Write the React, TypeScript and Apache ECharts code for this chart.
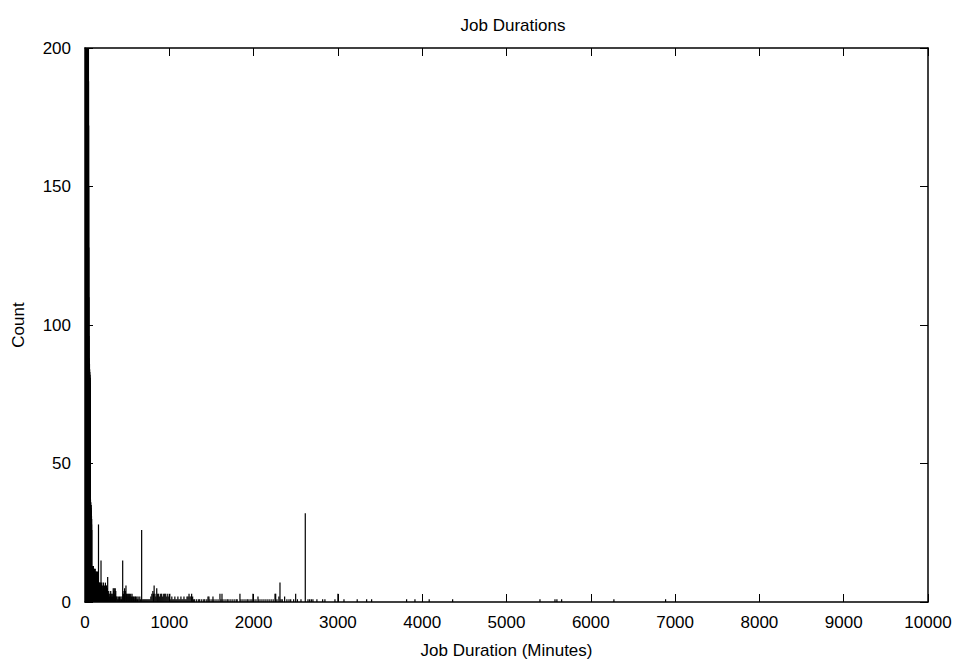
import React, { useEffect, useRef } from "react";
import * as echarts from "echarts";

const chartTitle = "Job Durations";
const xAxisName = "Job Duration (Minutes)";
const yAxisName = "Count";
const xTicks = [0, 1000, 2000, 3000, 4000, 5000, 6000, 7000, 8000, 9000, 10000];
const yTicks = [0, 50, 100, 150, 200];

// Histogram bins: duration in minutes and job count
const durations = [
  1, 2, 3, 4, 5, 6, 7, 8, 9, 10, 11, 12, 13, 14, 15, 16, 17, 18, 19, 20,
  21, 22, 23, 24, 25, 26, 27, 28, 29, 30, 31, 32, 33, 34, 35, 36, 37, 38, 39, 40,
  41, 42, 43, 44, 45, 46, 47, 48, 49, 50, 51, 52, 53, 54, 55, 56, 57, 58, 59, 60,
  61, 62, 63, 64, 65, 66, 67, 68, 69, 70, 71, 72, 73, 74, 75, 76, 77, 78, 79, 80,
  82, 84, 86, 88, 90, 92, 94, 96, 98, 100, 102, 104, 106, 108, 110, 112, 114, 116, 118, 120,
  122, 124, 126, 128, 130, 132, 134, 136, 138, 140, 142, 144, 146, 148, 150, 152, 154, 156, 158, 160,
  162, 164, 166, 168, 170, 172, 174, 176, 178, 180, 182, 184, 186, 188, 190, 192, 194, 196, 198,
  200, 206, 212, 218, 224, 230, 236, 242, 248, 254, 260, 266, 269, 275, 281, 287, 293, 299,
  305, 311, 317, 323, 329, 335, 341, 347, 353, 359, 365, 371, 380, 388, 395, 402, 410, 418, 425, 433, 440,
  447, 455, 463, 470, 478, 486, 494, 502, 510, 518, 526, 534, 542, 550, 558, 566, 574, 582, 590, 598,
  606, 614, 622, 630, 640, 650, 660, 672, 685, 697, 709, 721, 733, 745, 757, 769, 781, 793, 805, 813,
  820, 830, 840, 851, 862, 874, 886, 898, 910, 922, 934, 946, 958, 970, 982, 994, 1006, 1018, 1030, 1042,
  1054, 1066, 1078, 1090, 1102, 1114, 1126, 1138, 1150, 1162, 1174, 1186, 1198, 1210, 1222, 1234, 1246, 1258, 1265, 1277,
  1289, 1301, 1325, 1349, 1361, 1385, 1409, 1421, 1445, 1459, 1470, 1482, 1506, 1518, 1530, 1554, 1578, 1601, 1613, 1625,
  1637, 1661, 1685, 1697, 1721, 1745, 1769, 1793, 1805, 1838, 1850, 1874, 1898, 1922, 1934, 1958, 1980, 1992, 2004, 2028,
  2052, 2064, 2088, 2112, 2136, 2160, 2184, 2208, 2232, 2254, 2262, 2277, 2300, 2313, 2325, 2340, 2368, 2395, 2420, 2440,
  2475, 2499, 2520, 2562, 2613, 2645, 2665, 2685, 2704, 2751, 2819, 2846, 2965, 3000, 3072, 3229, 3341, 3400,
  3815, 3914, 4083, 4361, 5397, 5575, 5598, 5654, 6274, 6887,
];
const counts = [
  980, 870, 760, 690, 640, 590, 560, 520, 495, 470, 450, 430, 410, 395, 380, 365, 350, 340, 330, 318,
  305, 296, 288, 280, 272, 265, 258, 252, 247, 242, 238, 233, 229, 225, 221, 217, 214, 210, 207, 204,
  201, 188, 172, 150, 128, 110, 96, 88, 86, 84, 85, 83, 86, 82, 84, 81, 83, 80, 82, 79,
  81, 78, 37, 36, 37, 34, 35, 33, 36, 31, 34, 32, 35, 30, 33, 29, 31, 28, 30, 26,
  13, 12, 13, 11, 12, 13, 10, 12, 11, 13, 9, 12, 10, 11, 9, 12, 8, 10, 11, 9,
  12, 8, 10, 9, 11, 7, 10, 8, 11, 9, 10, 7, 9, 11, 6, 8, 5, 7, 4, 28,
  6, 5, 7, 4, 6, 5, 7, 3, 6, 4, 7, 5, 3, 6, 15, 4, 6, 3, 7,
  5, 6, 4, 7, 5, 6, 4, 7, 5, 6, 4, 5, 9, 3, 4, 3, 2, 3,
  4, 2, 3, 3, 2, 5, 4, 5, 3, 5, 4, 2, 2, 1, 2, 1, 2, 1, 2, 1, 2,
  15, 3, 4, 5, 4, 6, 3, 3, 2, 3, 3, 2, 3, 2, 3, 2, 2, 1, 2, 2,
  1, 2, 1, 2, 1, 2, 1, 26, 1, 1, 1, 1, 1, 1, 1, 1, 2, 3, 4, 3,
  6, 3, 2, 5, 3, 3, 2, 3, 3, 2, 3, 3, 3, 2, 3, 2, 3, 1, 2, 1,
  1, 2, 1, 1, 2, 1, 1, 2, 1, 1, 2, 1, 1, 2, 2, 3, 2, 2, 3, 2,
  1, 1, 1, 1, 1, 1, 1, 1, 1, 2, 2, 1, 1, 2, 1, 1, 1, 3, 1, 3,
  1, 1, 1, 1, 1, 1, 1, 1, 1, 3, 1, 1, 1, 1, 1, 1, 1, 3, 1, 1,
  2, 1, 1, 1, 1, 1, 1, 1, 1, 3, 3, 1, 2, 7, 1, 1, 2, 1, 1, 1,
  1, 3, 1, 1, 32, 1, 1, 1, 1, 1, 1, 1, 1, 3, 1, 1, 1, 1,
  1, 1, 1, 1, 1, 1, 1, 1, 1, 1,
];

const FONT = "'Liberation Sans', Arial, sans-serif";
const FS = 17;

export default function App() {
  const ref = useRef<HTMLDivElement>(null);

  useEffect(() => {
    if (!ref.current) return;
    const chart = echarts.init(ref.current, undefined, { renderer: "svg" });
    const data = durations.map((d, i) => [d, counts[i]]);
    const axisLine = { show: true, onZero: false, lineStyle: { color: "#000", width: 1.5 } };
    const tick = { show: true, inside: true, length: 8, lineStyle: { color: "#000", width: 1 } };
    const plain = (v: number) => String(v);
    chart.setOption({
      animation: false,
      backgroundColor: "#fff",
      title: {
        text: chartTitle,
        left: 508,
        top: 12,
        textAlign: "center",
        textStyle: { fontFamily: FONT, fontSize: FS, fontWeight: "normal", color: "#000" },
      },
      grid: { left: 85, right: 28, top: 48, bottom: 56, containLabel: false },
      xAxis: [
        {
          type: "value",
          min: xTicks[0],
          max: xTicks[xTicks.length - 1],
          interval: 1000,
          position: "bottom",
          name: xAxisName,
          nameLocation: "middle",
          nameGap: 40,
          nameTextStyle: { fontFamily: FONT, fontSize: FS, color: "#000" },
          axisLine,
          axisTick: tick,
          axisLabel: { fontFamily: FONT, fontSize: FS, color: "#000", margin: 12, formatter: plain },
          splitLine: { show: false },
        },
        {
          type: "value",
          min: xTicks[0],
          max: xTicks[xTicks.length - 1],
          interval: 1000,
          position: "top",
          axisLine,
          axisTick: tick,
          axisLabel: { show: false },
          splitLine: { show: false },
        },
      ],
      yAxis: [
        {
          type: "value",
          min: yTicks[0],
          max: yTicks[yTicks.length - 1],
          interval: 50,
          position: "left",
          name: yAxisName,
          nameLocation: "middle",
          nameGap: 58,
          nameTextStyle: { fontFamily: FONT, fontSize: FS, color: "#000" },
          axisLine,
          axisTick: tick,
          axisLabel: { fontFamily: FONT, fontSize: FS, color: "#000", margin: 14, formatter: plain },
          splitLine: { show: false },
        },
        {
          type: "value",
          min: yTicks[0],
          max: yTicks[yTicks.length - 1],
          interval: 50,
          position: "right",
          axisLine,
          axisTick: tick,
          axisLabel: { show: false },
          splitLine: { show: false },
        },
      ],
      series: [
        {
          type: "custom",
          xAxisIndex: 0,
          yAxisIndex: 0,
          clip: true,
          data,
          renderItem: (_params: any, api: any) => {
            const x = api.value(0);
            const y = api.value(1);
            const p0 = api.coord([x, 0]);
            const p1 = api.coord([x, y]);
            return {
              type: "line",
              shape: { x1: p0[0], y1: p0[1], x2: p1[0], y2: p1[1] },
              style: { stroke: "#000", lineWidth: 1.2 },
            };
          },
        },
      ],
    });
    return () => chart.dispose();
  }, []);

  return (
    <div
      ref={ref}
      style={{ position: "fixed", left: 0, top: 0, width: 956, height: 664, background: "#fff" }}
    />
  );
}
